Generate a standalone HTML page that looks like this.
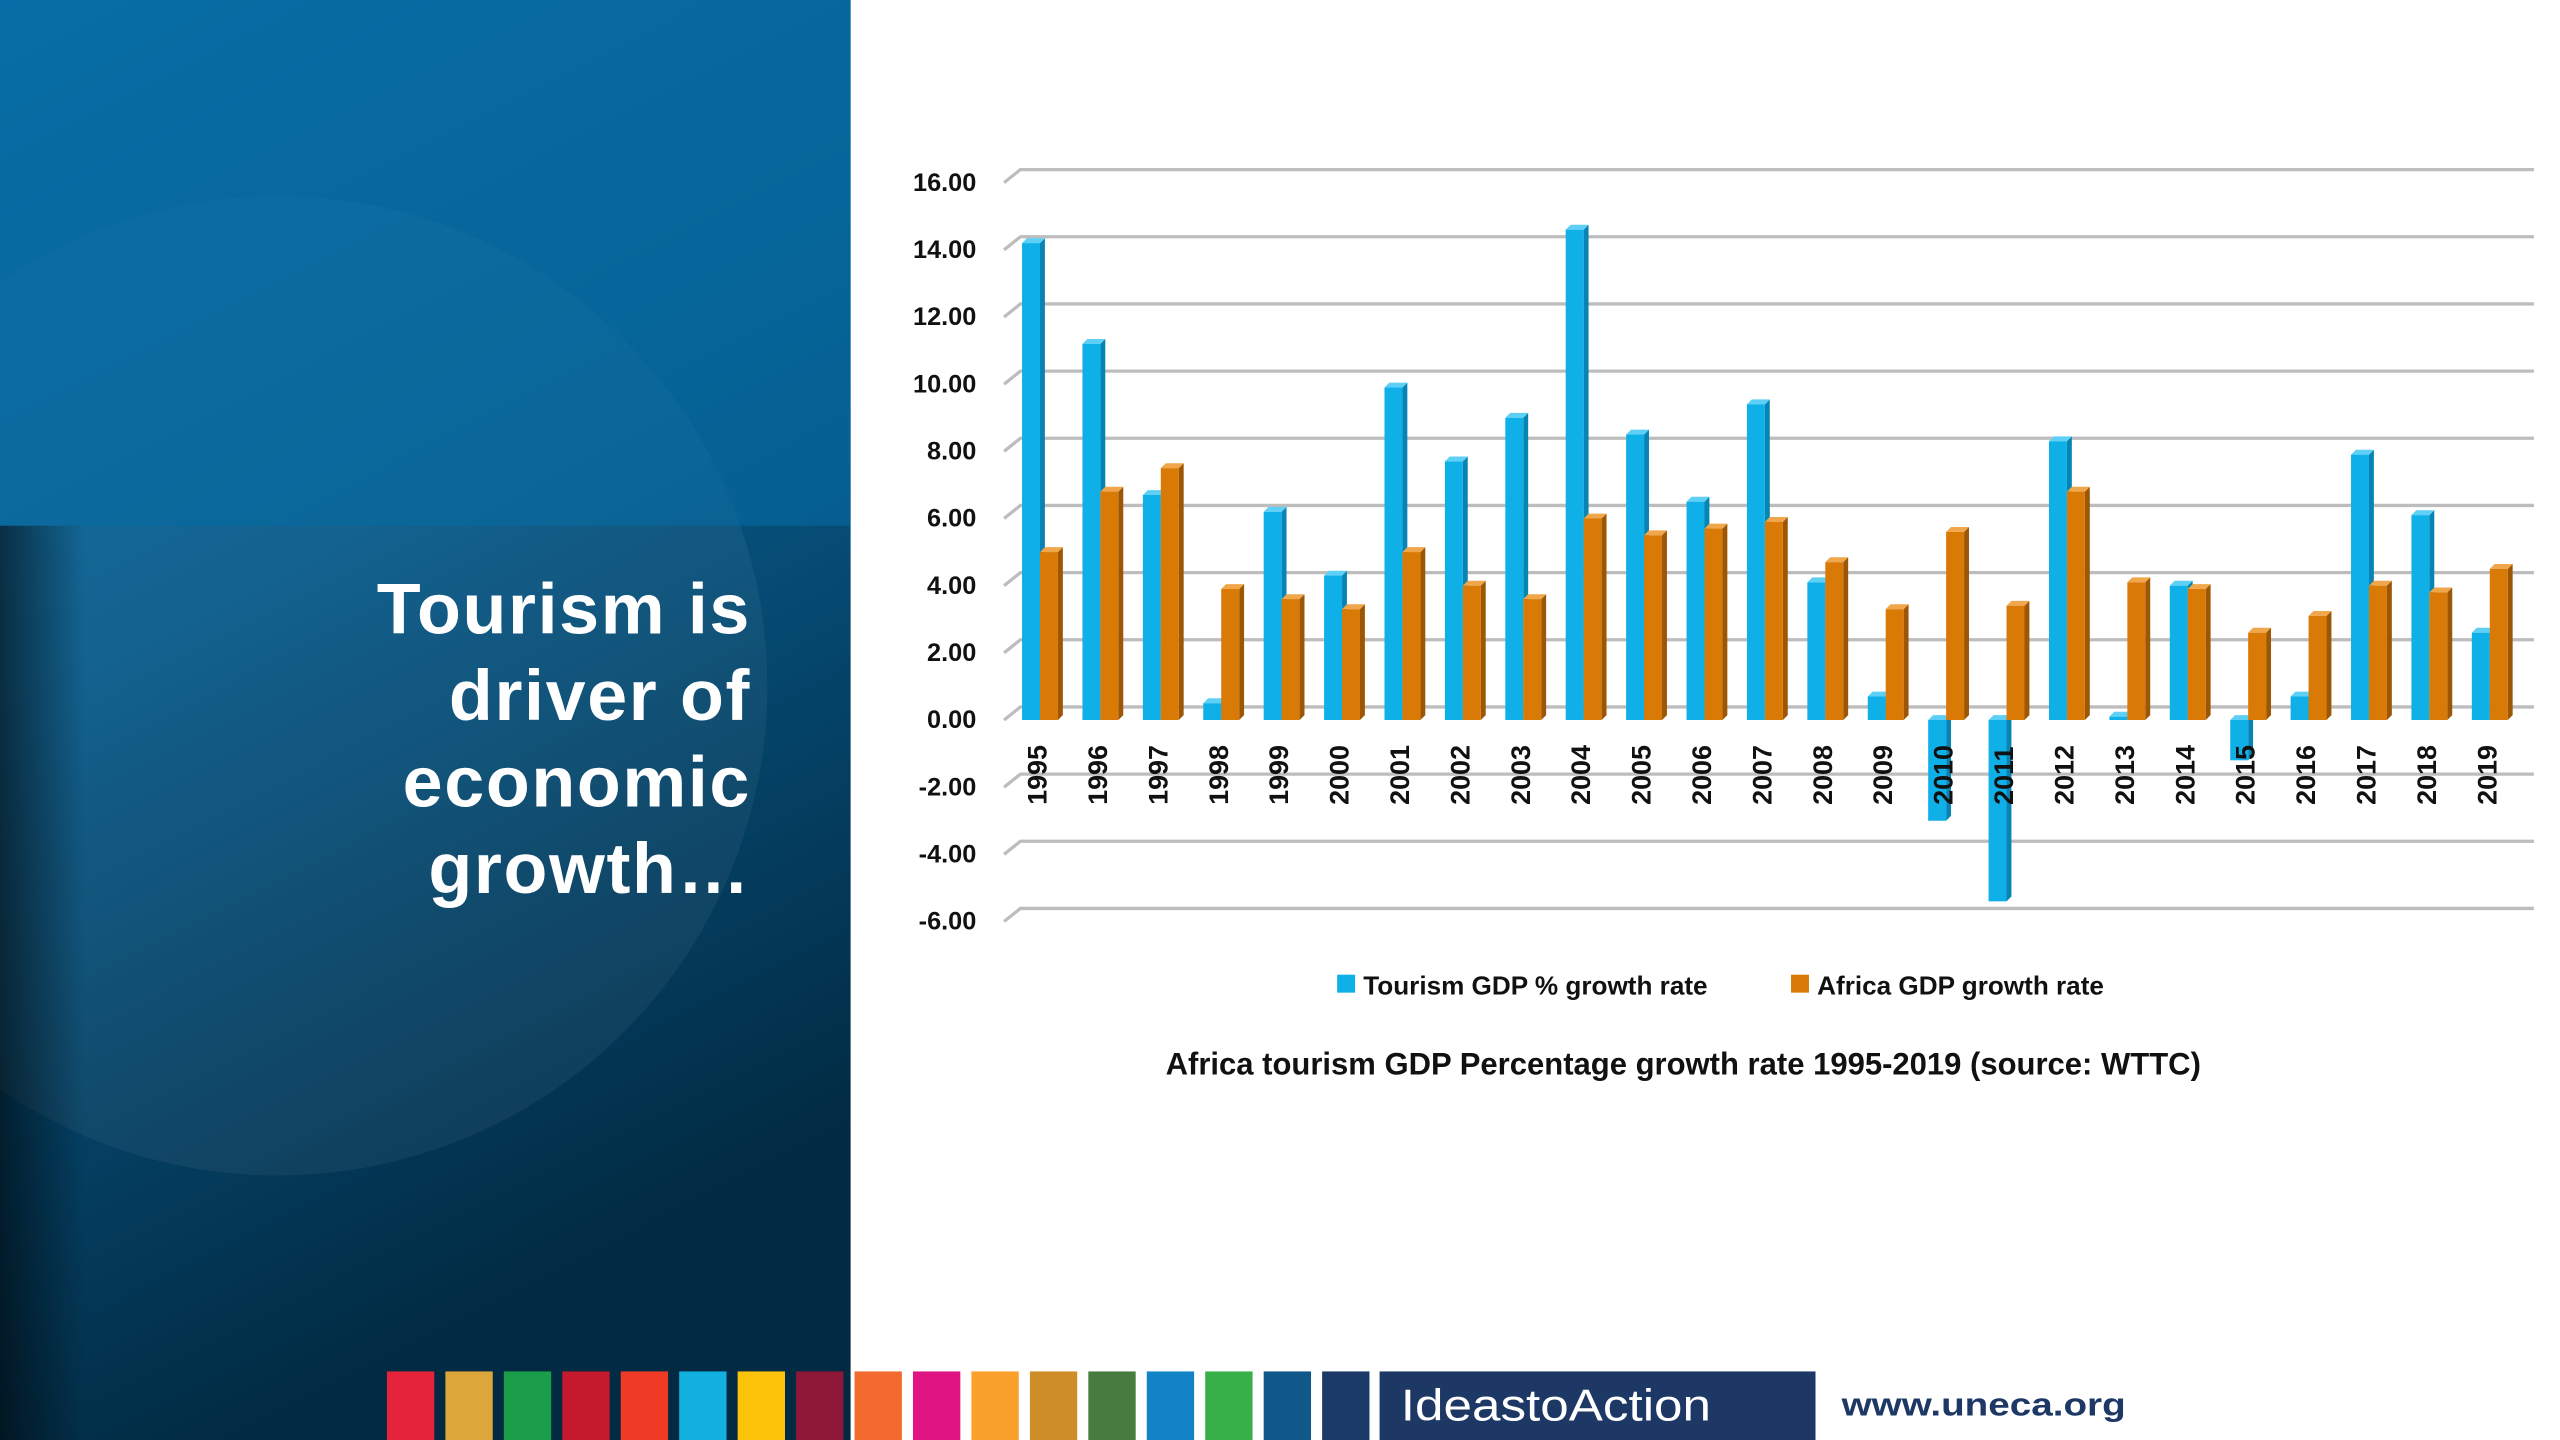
<!DOCTYPE html>
<html><head><meta charset="utf-8"><style>
html,body{margin:0;padding:0;background:#fff;}
svg{display:block;}
</style></head><body>
<svg id="s" width="2560" height="1440" viewBox="0 0 1568 882" xmlns="http://www.w3.org/2000/svg" font-family="Liberation Sans, sans-serif">
<defs>
<linearGradient id="lp" x1="0" y1="0" x2="0.3" y2="1">
<stop offset="0" stop-color="#0a72ac"/><stop offset="0.45" stop-color="#075a8a"/><stop offset="1" stop-color="#022a42"/></linearGradient>
<linearGradient id="lp2" x1="0" y1="0" x2="1" y2="0">
<stop offset="0" stop-color="#000" stop-opacity="0.55"/><stop offset="0.1" stop-color="#000" stop-opacity="0"/></linearGradient>
</defs>
<rect x="0" y="0" width="521" height="882" fill="url(#lp)"/>
<circle cx="170" cy="420" r="300" fill="#ffffff" opacity="0.05"/>
<rect x="0" y="0" width="521" height="322" fill="#066aa2" opacity="0.6"/>
<rect x="0" y="322" width="521" height="560" fill="url(#lp2)"/>
<g fill="#fff" font-weight="bold" font-size="44" text-anchor="end" letter-spacing="1">
<text x="460" y="388">Tourism is</text>
<text x="460" y="441">driver of</text>
<text x="460" y="494">economic</text>
<text x="460" y="547">growth…</text>
</g>
<g id="grid"></g>
<g id="ylabels" font-size="15.5" font-weight="bold" fill="#111" text-anchor="end"></g>
<g id="bars"></g>
<g id="xlabels" font-size="16.5" font-weight="bold" fill="#111"></g>
<g font-size="16" font-weight="bold" fill="#111">
<rect x="819" y="597" width="11" height="11" fill="#0fb0e8"/>
<text x="835" y="609">Tourism GDP % growth rate</text>
<rect x="1097" y="597" width="11" height="11" fill="#d97a06"/>
<text x="1113" y="609">Africa GDP growth rate</text>
</g>
<text x="1031" y="658" font-size="19" font-weight="bold" fill="#111" text-anchor="middle">Africa tourism GDP Percentage growth rate 1995-2019 (source: WTTC)</text>
<g id="sdg"></g>
<rect x="845" y="840" width="267" height="42" fill="#1e3866"/>
<text x="858" y="870" font-size="27" fill="#fff" textLength="190" lengthAdjust="spacingAndGlyphs">IdeastoAction</text>
<text x="1128" y="867" font-size="20" font-weight="bold" fill="#1e3866" textLength="174" lengthAdjust="spacingAndGlyphs">www.uneca.org</text>
</svg>
<script>
const years = ["1995","1996","1997","1998","1999","2000","2001","2002","2003","2004","2005","2006","2007","2008","2009","2010","2011","2012","2013","2014","2015","2016","2017","2018","2019"];
const tourismGrowth = [14.2,11.2,6.7,0.5,6.2,4.3,9.9,7.7,9.0,14.6,8.5,6.5,9.4,4.1,0.7,-3.0,-5.4,8.3,0.1,4.0,-1.2,0.7,7.9,6.1,2.6];
const africaGrowth = [5.0,6.8,7.5,3.9,3.6,3.3,5.0,4.0,3.6,6.0,5.5,5.7,5.9,4.7,3.3,5.6,3.4,6.8,4.1,3.9,2.6,3.1,4.0,3.8,4.5];
const yTicks = [16,14,12,10,8,6,4,2,0,-2,-4,-6];
const sdgColors = ["#e5243b","#dda63a","#1a9e4a","#c5192d","#ef3b26","#12b0e0","#fcc30b","#8f1838","#f26a2e","#e01483","#f9a12a","#cf8d2a","#487b3f","#1383c7","#38b04a","#10578a","#1b3a67"];

const NS = "http://www.w3.org/2000/svg";
const y0 = 441, unit = 20.57, D = 8;
function yScale(v){ return y0 - v*unit; }
function xScale(i){ return 635 + i*37; }
function mk(tag, attrs, parent){ const e=document.createElementNS(NS,tag); for(const k in attrs) e.setAttribute(k, attrs[k]); parent.appendChild(e); return e; }

const grid = document.getElementById('grid');
const yl = document.getElementById('ylabels');
yTicks.forEach(t=>{
  const y = yScale(t);
  const p = mk('polyline',{points:`615,${y} ${625},${y-D} 1552,${y-D}`,fill:'none',stroke:'#bdbdbd','stroke-width':2},grid);
  
  
  const tx = mk('text',{x:598,y:y+5},yl);
  tx.textContent = t.toFixed(2);
  
  
});

const bars = document.getElementById('bars');
function bar(x, v, w, front, side, top, name){
  const g = mk('g',{},bars);
  
  
  const a = yScale(Math.max(v,0)), b = yScale(Math.min(v,0));
  const d = 3;
  mk('polygon',{points:`${x+w},${a} ${x+w+d},${a-d} ${x+w+d},${b-d} ${x+w},${b}`,fill:side},g);
  mk('polygon',{points:`${x},${a} ${x+d},${a-d} ${x+w+d},${a-d} ${x+w},${a}`,fill:top},g);
  mk('rect',{x:x,y:a,width:w,height:Math.max(b-a,0.5),fill:front},g);
}
years.forEach((yr,i)=>{
  const cx = xScale(i);
  bar(cx-9, tourismGrowth[i], 11, '#0fb0e8', '#0784b4', '#5fd0f5', 'bar-tourism-'+yr);
  bar(cx+2, africaGrowth[i], 11, '#d97a06', '#9c5604', '#f0a64a', 'bar-africa-'+yr);
});

const xl = document.getElementById('xlabels');
years.forEach((yr,i)=>{
  const cx = xScale(i)+1;
  const t = mk('text',{x:0,y:0,transform:`translate(${cx+5},${493}) rotate(-90)`},xl);
  t.textContent = yr;
  
  
});

const sdg = document.getElementById('sdg');
sdgColors.forEach((c,i)=>{
  const r = mk('rect',{x:237+i*35.8,y:840,width:29,height:42,fill:c},sdg);
  
  
});
</script>
</body></html>
